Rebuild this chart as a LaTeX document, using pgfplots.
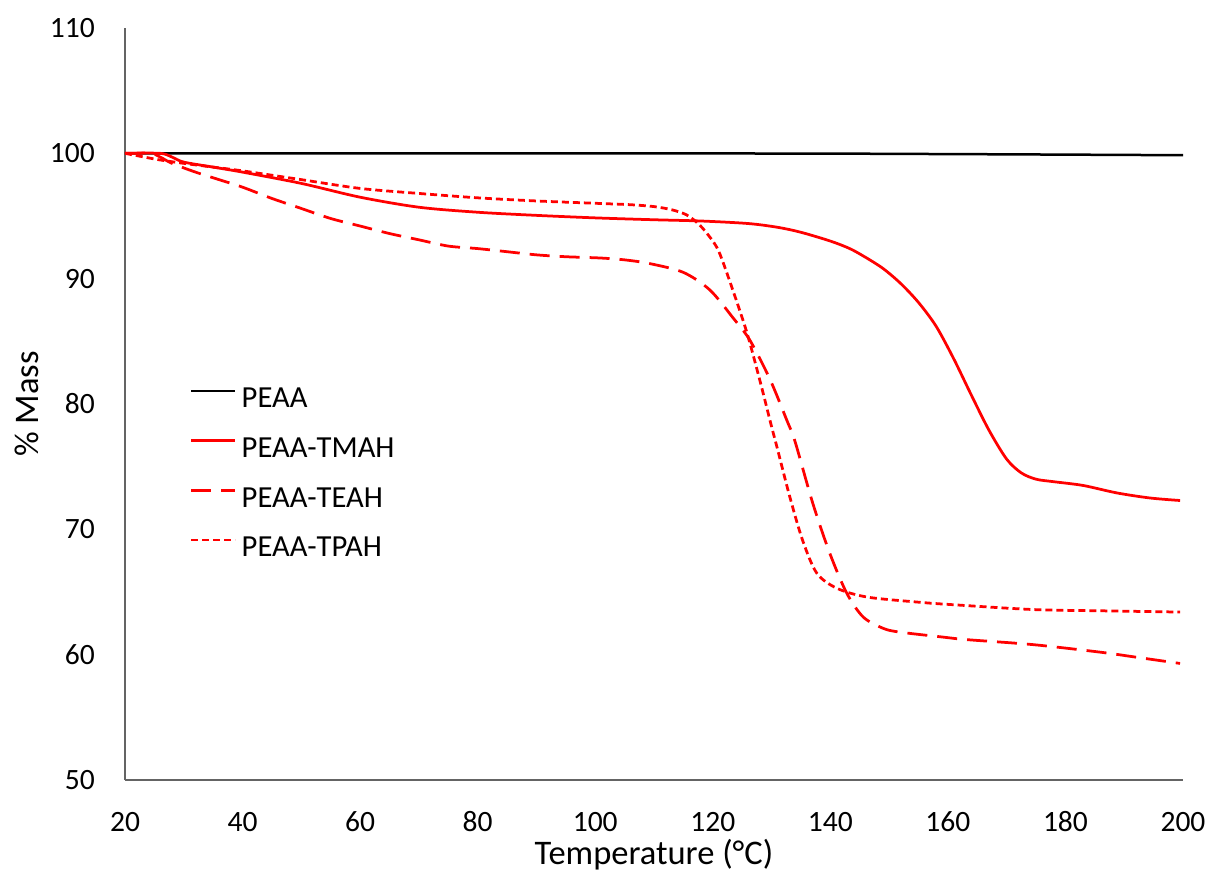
\documentclass[border=0pt]{standalone}
\usepackage{pgfplots}
\pgfplotsset{compat=1.18}
\usepackage{fontspec}
\setmainfont{Carlito}

\definecolor{axisgray}{RGB}{100,100,100}
\definecolor{tgared}{RGB}{255,0,0}

\begin{document}
\begin{tikzpicture}
\begin{axis}[
  at={(0,0)}, anchor=south west,
  scale only axis, width=1058bp, height=752bp,
  xmin=20, xmax=200, ymin=50, ymax=110,
  xtick={20,40,...,200}, ytick={50,60,...,110},
  axis x line=bottom, axis y line=left,
  axis line style={-, draw=axisgray, line width=1.75bp},
  major tick length=0pt,
  /pgf/number format/assume math mode=true,
  tick label style={font=\fontsize{29.5bp}{34bp}\selectfont, text=black, inner sep=0pt},
  xticklabel style={anchor=base, yshift=-51bp},
  yticklabel style={anchor=base east, xshift=-30bp, yshift=-9.5bp},
  xlabel={Temperature (°C)}, ylabel={\% Mass},
  label style={font=\fontsize{34.5bp}{40bp}\selectfont, inner sep=0pt},
  xlabel style={at={(axis description cs:0.5,-0.0997)}, anchor=center},
  ylabel style={at={(axis description cs:-0.0926,0.5)}, anchor=center},
  legend cell align=left,
  legend style={at={(0.0614,0.5217)}, anchor=north west, draw=none, fill=none,
    inner sep=0pt, outer sep=0pt, row sep=23.7bp, column sep=5bp,
    font=\fontsize{30.6bp}{36bp}\selectfont,
    nodes={inner sep=0pt, text height=20bp, text depth=6bp}},
  legend image code/.code={\draw[#1] (0bp,9.7bp) -- (44bp,9.7bp);},
]

% PEAA
\addplot[black, line width=2.5bp] table {
T m
20 100.0
60 100.0
100 100.0
140 99.98
170 99.92
200 99.85
};
\addlegendentry{PEAA}

% PEAA-TMAH
\addplot[tgared, line width=2.75bp, smooth, tension=0.5] table {
T m
20 100.0
26 100.0
28 99.7
30 99.3
35 98.9
40 98.5
50 97.6
60 96.5
70 95.7
80 95.3
90 95.05
100 94.85
110 94.7
118 94.6
126 94.4
131 94.1
135 93.7
140 93.0
143.3 92.4
146 91.7
149 90.8
152 89.6
155 88.1
158 86.2
161 83.6
164 80.7
167 77.9
170 75.6
172.5 74.5
175 74.0
178 73.8
183 73.5
188.8 72.9
194.4 72.5
199.5 72.3
};
\addlegendentry{PEAA-TMAH}

% PEAA-TEAH
\addplot[tgared, line width=2.75bp, dash pattern=on 20bp off 10bp, smooth, tension=0.5] table {
T m
20 100.0
24.3 100.0
26 99.7
28 99.2
32 98.5
36 97.9
40 97.3
45 96.4
50 95.6
55 94.8
60 94.2
65 93.6
70 93.1
75 92.6
80 92.4
85 92.15
90 91.9
95 91.75
100.8 91.65
105 91.5
109.3 91.2
115 90.5
119.5 89.1
123.4 86.9
126.3 85.1
129.7 82.0
132.6 78.7
134 77.0
137 72.1
139.9 68.1
142.8 64.9
145.6 63.0
149 62.1
151.8 61.8
159.2 61.4
163.2 61.2
174.5 60.8
185.9 60.2
192 59.8
199.5 59.3
};
\addlegendentry{PEAA-TEAH}

% PEAA-TPAH
\addplot[tgared, line width=2.75bp, dash pattern=on 7bp off 4bp, smooth, tension=0.5] table {
T m
20 100.0
25.6 99.5
30 99.2
35 98.9
40 98.6
50 97.9
60 97.2
70 96.8
80 96.45
90 96.2
100.8 96.0
106 95.9
110 95.75
113 95.5
115.5 95.1
117.5 94.4
119.2 93.5
121 92.2
123.4 89.1
125.8 85.7
128 81.9
130 78.2
130.9 76.6
133.1 72.6
135.3 69.1
137.7 66.5
141.1 65.3
146.2 64.6
154.7 64.2
160.4 64.0
174.5 63.6
186 63.5
199.5 63.4
};
\addlegendentry{PEAA-TPAH}

\end{axis}
\pgfresetboundingbox
\path[use as bounding box] (-125bp,-102bp) rectangle (1084bp,780bp);
\end{tikzpicture}
\end{document}
